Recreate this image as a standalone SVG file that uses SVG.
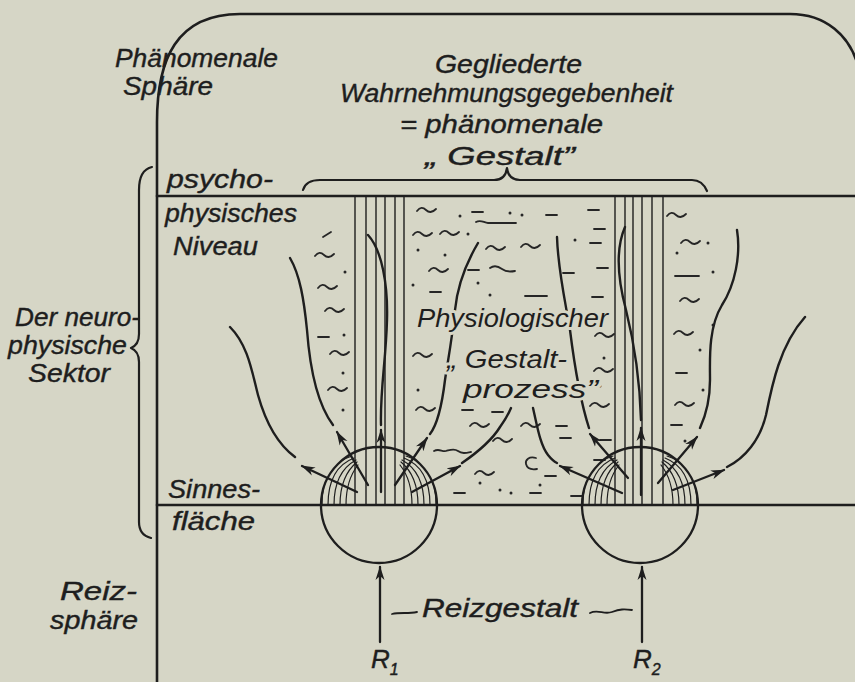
<svg xmlns="http://www.w3.org/2000/svg" xmlns:xlink="http://www.w3.org/1999/xlink" width="855" height="682" viewBox="0 0 855 682">
<style>
.ink{fill:none;stroke:#1e1e1e;stroke-linecap:round;stroke-linejoin:round}
.frame{stroke-width:2.6}
.col{stroke-width:1.4}
.fan{stroke-width:1.2}
.flow{stroke-width:2.4}
.arr{stroke-width:2.3}
.sq{fill:none;stroke:#262626;stroke-width:1.8;stroke-linecap:round}
.dot{fill:#262626}
.lbl{font-family:"Liberation Sans",Arial,sans-serif;font-style:italic;font-size:26px;fill:#1e1e1e;stroke:#1e1e1e;stroke-width:0.4}
.sm{font-size:25px}
.ko{stroke:#d6d6c6;stroke-width:6;paint-order:stroke;stroke-linejoin:round}
</style>
<defs>
<marker id="ah" viewBox="0 0 14 10" refX="13" refY="5" markerWidth="14" markerHeight="10" markerUnits="userSpaceOnUse" orient="auto">
<path d="M0,0.5 L14,5 L0,9.5 L4,5 z" fill="#1e1e1e" stroke="none"/>
</marker>
<path id="tl" d="M0,0 c3,-4 6,-4 9,-1 s6,3 10,-1"/>
<path id="ds" d="M0,0 h11"/>
<clipPath id="cL"><circle cx="379" cy="505" r="58"/></clipPath>
<clipPath id="cR"><circle cx="640" cy="505" r="58"/></clipPath>
</defs>
<rect width="855" height="682" fill="#d6d6c6"/>

<g id="frame" class="ink frame">
<path d="M157,682 L157,122 C157,60 176,14 240,14 L790,14 C826,14 850,36 858,66"/>
<path d="M157,196 L855,196"/>
<path d="M157,505 L855,505"/>
</g>

<g id="braces" class="ink" stroke-width="2.2">
<path d="M152,167 C143,169 139,177 139,190 L139,334 C139,342 136,346 131,348 C136,350 139,354 139,362 L139,522 C139,531 143,536 151,538"/>
<path d="M303,190 C305,183 310,180 320,180 L494,180 C502,180 506,176 507,168 C508,176 512,180 520,180 L692,180 C700,180 704,184 707,191"/>
</g>

<g id="squiggles">
<g class="sq">
<path d="M323,237 l8,-5"/>
<use href="#tl" x="315" y="256"/><use href="#tl" x="318" y="288"/><use href="#tl" x="325" y="311"/>
<use href="#ds" x="318" y="337"/><use href="#tl" x="330" y="354"/><use href="#tl" x="328" y="390"/>
<use href="#tl" x="417" y="211"/><use href="#ds" x="472" y="212"/><path d="M476,222 c5,-3 8,1 12,1 l28,0"/>
<use href="#ds" x="546" y="215"/><use href="#ds" x="588" y="210"/><use href="#tl" x="413" y="235"/>
<use href="#tl" x="440" y="234"/><use href="#ds" x="594" y="229"/><use href="#tl" x="486" y="249"/>
<use href="#tl" x="521" y="247"/><use href="#ds" x="590" y="243"/><use href="#tl" x="429" y="271"/>
<use href="#ds" x="468" y="270"/><path d="M490,268 c4,-3 8,-2 12,1 s8,3 13,2"/><use href="#ds" x="563" y="273"/>
<use href="#ds" x="597" y="268"/><use href="#ds" x="430" y="292"/><path d="M525,296 h22"/><use href="#ds" x="592" y="297"/>
<use href="#tl" x="413" y="356"/><use href="#tl" x="416" y="410"/><use href="#ds" x="462" y="410"/>
<use href="#ds" x="492" y="412"/><use href="#tl" x="470" y="426"/><use href="#tl" x="493" y="441"/>
<path d="M434,451 c5,-3 8,1 12,0 s8,-3 12,0 s8,2 13,1"/><use href="#ds" x="454" y="493"/>
<use href="#tl" x="475" y="474"/><path d="M536,458 c-7,-2 -11,2 -10,6 c1,4 5,6 11,5"/>
<use href="#tl" x="521" y="426"/><use href="#ds" x="556" y="426"/><use href="#ds" x="560" y="438"/>
<use href="#ds" x="545" y="476"/><use href="#ds" x="530" y="493"/><use href="#ds" x="571" y="496"/>
<use href="#tl" x="594" y="371"/><use href="#tl" x="590" y="406"/><use href="#ds" x="594" y="460"/>
<use href="#ds" x="600" y="440"/><use href="#tl" x="595" y="336"/>
<use href="#tl" x="667" y="216"/><use href="#tl" x="681" y="243"/><path d="M675,276 h24"/>
<use href="#tl" x="680" y="301"/><use href="#tl" x="674" y="334"/><use href="#ds" x="676" y="373"/>
<use href="#tl" x="675" y="405"/><use href="#ds" x="671" y="425"/>
</g>
<g class="dot">
<circle cx="345" cy="272" r="1.5"/><circle cx="344" cy="335" r="1.5"/><circle cx="343" cy="373" r="1.5"/><circle cx="343" cy="410" r="1.5"/>
<circle cx="460" cy="216" r="1.5"/><circle cx="510" cy="213" r="1.5"/><circle cx="522" cy="215" r="1.5"/><circle cx="468" cy="234" r="1.5"/>
<circle cx="418" cy="250" r="1.5"/><circle cx="445" cy="255" r="1.5"/><circle cx="575" cy="240" r="1.5"/><circle cx="413" cy="285" r="1.5"/>
<circle cx="478" cy="283" r="1.5"/><circle cx="490" cy="295" r="1.5"/><circle cx="418" cy="390" r="1.5"/><circle cx="500" cy="490" r="1.5"/>
<circle cx="511" cy="493" r="1.5"/><circle cx="540" cy="485" r="1.5"/><circle cx="604" cy="358" r="1.5"/><circle cx="600" cy="386" r="1.5"/>
<circle cx="708" cy="243" r="1.5"/><circle cx="677" cy="253" r="1.5"/><circle cx="713" cy="272" r="1.5"/><circle cx="713" cy="325" r="1.5"/>
<circle cx="700" cy="350" r="1.5"/><circle cx="703" cy="390" r="1.5"/><circle cx="685" cy="441" r="1.5"/><circle cx="480" cy="483" r="1.5"/>
</g>
</g>

<g id="receptor-left">
<g class="ink col">
<path d="M355,197 V505 M366,197 V505 M376,197 V505 M385,197 V505 M395,197 V505 M404,197 V505"/>
</g>
<g class="ink fan" clip-path="url(#cL)">
<path d="M322,505 Q322,465 352,456 M328,505 Q328,468 354,458 M334,505 Q334,472 356,460 M340,505 Q340,476 357,462 M346,505 Q346,480 358,465"/>
<path d="M436,505 Q436,465 406,456 M430,505 Q430,468 404,458 M424,505 Q424,472 402,460 M418,505 Q418,476 401,462 M412,505 Q412,480 400,465"/>
</g>
<circle class="ink" stroke-width="2.3" cx="379" cy="505" r="58"/>
</g>

<g id="receptor-right">
<g class="ink col">
<path d="M615,197 V505 M625,197 V505 M633,197 V505 M642,197 V505 M652,197 V505 M663,197 V505"/>
</g>
<g class="ink fan" clip-path="url(#cR)">
<path d="M583,505 Q583,465 613,456 M589,505 Q589,468 615,458 M595,505 Q595,472 617,460 M601,505 Q601,476 618,462 M607,505 Q607,480 619,465"/>
<path d="M697,505 Q697,465 667,456 M691,505 Q691,468 665,458 M685,505 Q685,472 663,460 M679,505 Q679,476 662,462 M673,505 Q673,480 661,465"/>
</g>
<circle class="ink" stroke-width="2.3" cx="640" cy="505" r="58"/>
</g>

<g id="flows" class="ink flow">
<path d="M230,327 C248,345 252,372 258,395 C265,420 276,443 295,457"/>
<path d="M290,258 C300,275 304,300 307,330 C310,370 318,405 333,425"/>
<path d="M368,235 C382,250 388,285 387,320 C386,360 380,390 381,425"/>
<path d="M478,243 C465,265 457,290 455,310 C452,340 448,360 445,380 C442,405 437,425 430,434"/>
<path d="M462,463 C478,452 492,440 500,427 C505,420 508,415 511,408"/>
<path d="M533,408 C537,425 540,445 548,455 C552,460 555,462 557,463"/>
<path d="M557,237 C558,270 565,300 570,330 C575,370 580,400 589,428"/>
<path d="M625,227 C615,250 618,280 626,310 C636,350 640,385 641,420"/>
<path d="M737,230 C741,255 735,285 722,305 C708,328 710,360 710,380 C710,400 706,415 700,428"/>
<path d="M727,467 C745,458 760,440 766,415 C772,385 780,345 805,317"/>
</g>

<g id="connectors" class="ink arr">
<path d="M357,492 L302,466" marker-end="url(#ah)"/>
<path d="M368,485 L337,432" marker-end="url(#ah)"/>
<path d="M381,492 L381,430" marker-end="url(#ah)"/>
<path d="M395,485 L427,438" marker-end="url(#ah)"/>
<path d="M412,492 L460,466" marker-end="url(#ah)"/>
<path d="M622,493 L560,466" marker-end="url(#ah)"/>
<path d="M628,478 L590,434" marker-end="url(#ah)"/>
<path d="M641,495 L641,428" marker-end="url(#ah)"/>
<path d="M658,483 L697,437" marker-end="url(#ah)"/>
<path d="M673,490 L724,470" marker-end="url(#ah)"/>
<path d="M380,642 L380,567" marker-end="url(#ah)"/>
<path d="M642,642 L642,567" marker-end="url(#ah)"/>
<path d="M392,614 c8,-2 16,0 25,-2" stroke-width="1.8"/>
<path d="M590,613 c8,-4 14,2 22,-1 s12,-3 20,-2" stroke-width="1.8"/>
</g>

<g id="labels" class="lbl">
<text x="115" y="67" textLength="163" lengthAdjust="spacingAndGlyphs">Phänomenale</text>
<text x="123" y="95" textLength="90" lengthAdjust="spacingAndGlyphs">Sphäre</text>
<text x="435" y="73" textLength="147" lengthAdjust="spacingAndGlyphs">Gegliederte</text>
<text x="340" y="102" textLength="333" lengthAdjust="spacingAndGlyphs">Wahrnehmungsgegebenheit</text>
<text x="400" y="133" textLength="203" lengthAdjust="spacingAndGlyphs">= phänomenale</text>
<text x="425" y="165" textLength="150" lengthAdjust="spacingAndGlyphs">„ Gestalt”</text>
<text x="167" y="188" textLength="106" lengthAdjust="spacingAndGlyphs">psycho-</text>
<text x="165" y="222" textLength="132" lengthAdjust="spacingAndGlyphs">physisches</text>
<text x="173" y="255" textLength="85" lengthAdjust="spacingAndGlyphs">Niveau</text>
<text class="sm" x="15" y="326" textLength="125" lengthAdjust="spacingAndGlyphs">Der neuro-</text>
<text class="sm" x="8" y="354" textLength="119" lengthAdjust="spacingAndGlyphs">physische</text>
<text class="sm" x="28" y="382" textLength="82" lengthAdjust="spacingAndGlyphs">Sektor</text>
<text x="168" y="498" textLength="92" lengthAdjust="spacingAndGlyphs">Sinnes-</text>
<text x="172" y="530" textLength="83" lengthAdjust="spacingAndGlyphs">fläche</text>
<text x="60" y="600" textLength="77" lengthAdjust="spacingAndGlyphs">Reiz-</text>
<text x="50" y="629" textLength="88" lengthAdjust="spacingAndGlyphs">sphäre</text>
<text class="ko" x="417" y="327" textLength="191" lengthAdjust="spacingAndGlyphs">Physiologischer</text>
<text class="ko" x="447" y="368" textLength="120" lengthAdjust="spacingAndGlyphs">„ Gestalt-</text>
<text class="ko" x="463" y="398" textLength="135" lengthAdjust="spacingAndGlyphs">prozess”</text>
<text x="422" y="617" textLength="156" lengthAdjust="spacingAndGlyphs">Reizgestalt</text>
<text x="371" y="668">R<tspan font-size="16" dy="7">1</tspan></text>
<text x="633" y="668">R<tspan font-size="16" dy="7">2</tspan></text>
</g>
</svg>
